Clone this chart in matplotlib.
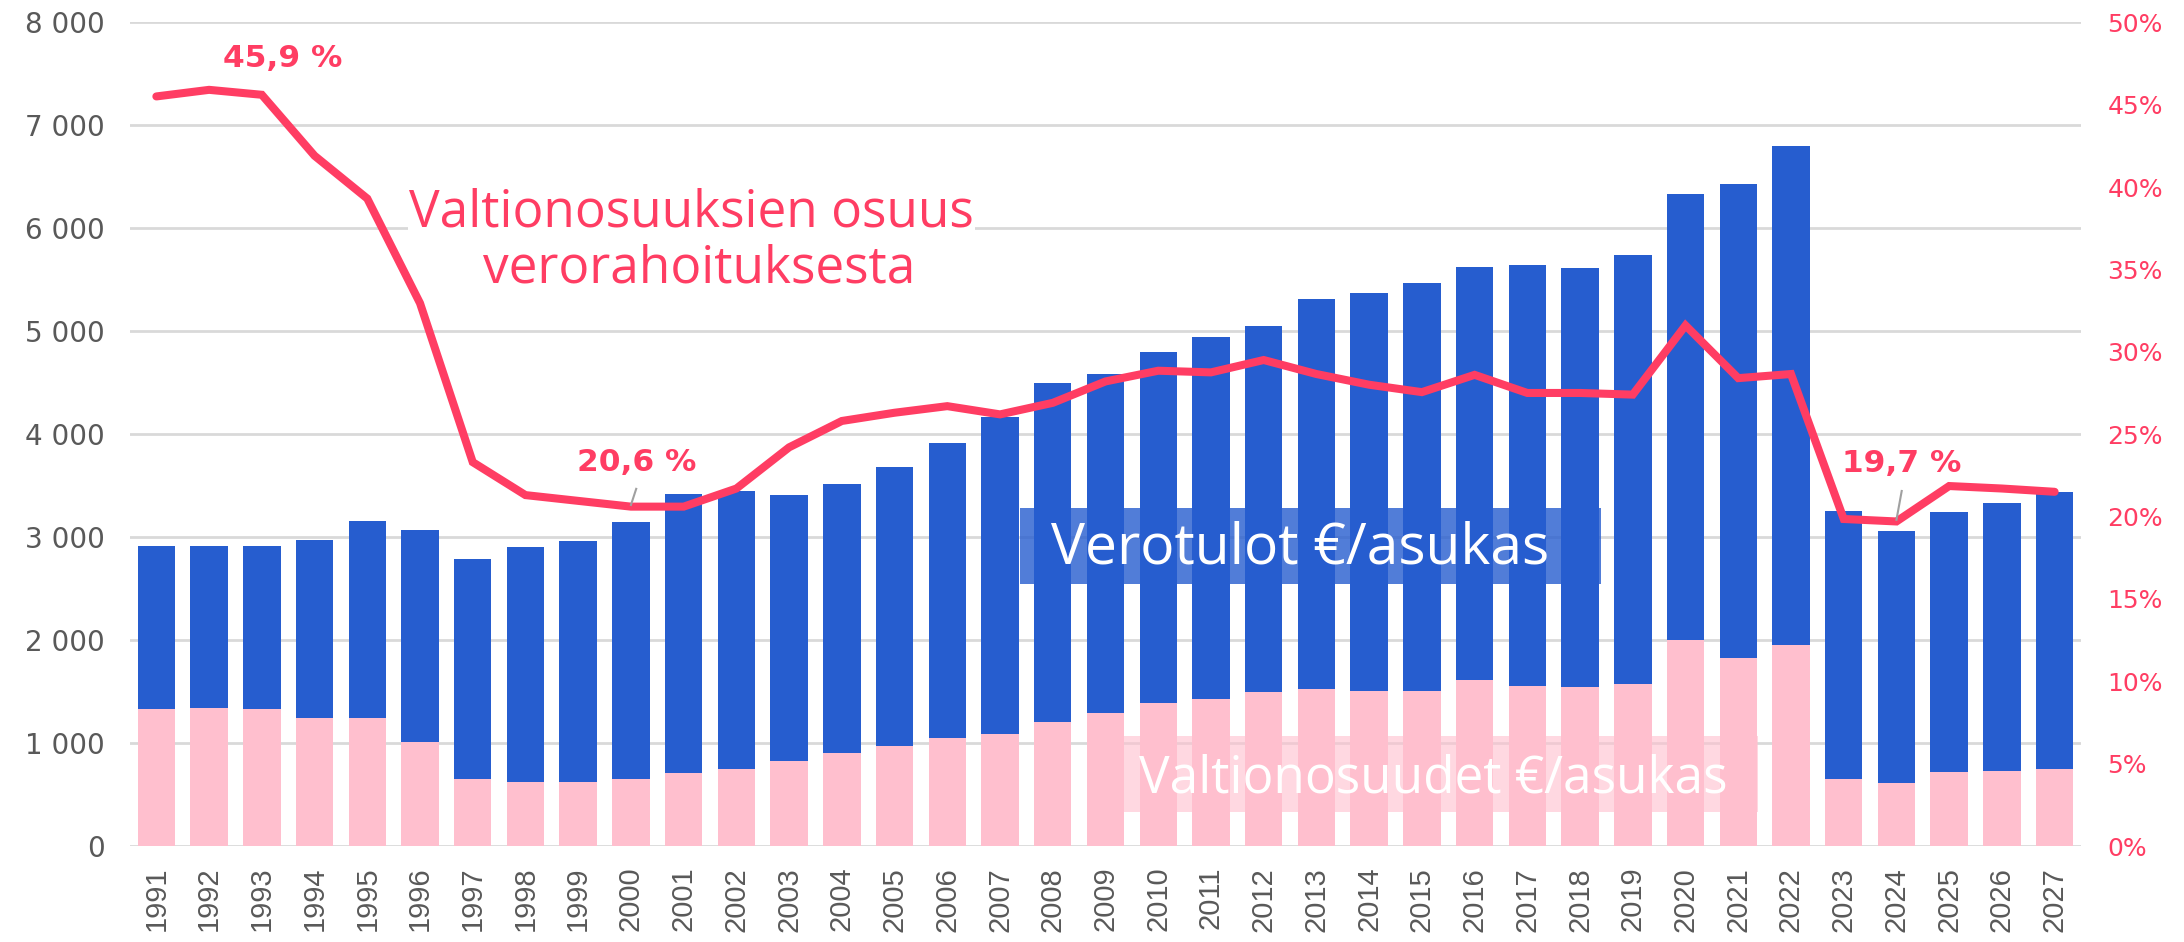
import matplotlib
matplotlib.use("Agg")
import matplotlib.pyplot as plt
from matplotlib.patches import Rectangle
from matplotlib.ticker import FuncFormatter, MultipleLocator

years = [str(y) for y in range(1991, 2028)]
verotulot = [2911, 2917, 2911, 2969, 3160, 3072, 2784, 2904, 2962, 3144,
             3419, 3451, 3412, 3519, 3679, 3917, 4167, 4497, 4581, 4801,
             4947, 5047, 5313, 5368, 5471, 5623, 5642, 5610, 5740, 6333,
             6433, 6799, 3254, 3059, 3241, 3331, 3441]
valtionosuudet = [1328, 1337, 1328, 1246, 1246, 1013, 648, 618, 618, 648,
                  706, 748, 826, 906, 971, 1046, 1088, 1207, 1295, 1386,
                  1425, 1493, 1525, 1505, 1508, 1609, 1554, 1544, 1577, 2004,
                  1829, 1952, 654, 609, 716, 728, 745]
osuus = [45.5, 45.9, 45.6, 41.9, 39.3, 32.95, 23.3, 21.3, 20.95, 20.6,
         20.6, 21.7, 24.2, 25.8, 26.3, 26.7, 26.2, 26.9, 28.2, 28.85,
         28.75, 29.5, 28.65, 28.0, 27.55, 28.6, 27.5, 27.5, 27.4, 31.6,
         28.4, 28.65, 19.85, 19.7, 21.85, 21.7, 21.5]
annot_text = ["45,9 %", "20,6 %", "19,7 %"]

BLUE = "#265DCF"
PINK = "#FFBFCE"
RED = "#FF3D63"
GRAY = "#595959"
GRID = "#D9D9D9"

fig = plt.figure(figsize=(21.84, 9.42), dpi=100)
ax = fig.add_axes([130/2184, 1-846/942, (2081-130)/2184, (846-22.3)/942])
x = list(range(len(years)))
ax.bar(x, verotulot, width=0.71, color=BLUE, zorder=2)
ax.bar(x, valtionosuudet, width=0.71, color=PINK, zorder=3)
ax.set_xlim(-0.5, len(years)-0.5)
ax.set_ylim(0, 8000)
ax.yaxis.set_major_locator(MultipleLocator(1000))
ax.yaxis.set_major_formatter(FuncFormatter(lambda v, p: f"{int(v):,}".replace(",", " ")))
ax.grid(axis="y", color=GRID, linewidth=2, zorder=0)
ax.set_axisbelow(True)
for s in ax.spines.values():
    s.set_visible(False)
ax.set_xticks(x)
ax.set_xticklabels(years, rotation=90, fontsize=21, color=GRAY, family="Liberation Sans")
ax.tick_params(axis="x", length=0, pad=15)
ax.tick_params(axis="y", length=0, pad=18, labelsize=20, labelcolor=GRAY)
for t in ax.get_yticklabels():
    t.set_family("DejaVu Sans")

ax2 = ax.twinx()
ax2.set_ylim(0, 50)
ax2.yaxis.set_major_locator(MultipleLocator(5))
ax2.yaxis.set_major_formatter(FuncFormatter(lambda v, p: f"{int(v)}%"))
ax2.tick_params(axis="y", length=0, pad=19, labelsize=18, labelcolor=RED)
for t in ax2.get_yticklabels():
    t.set_family("DejaVu Sans")
for s in ax2.spines.values():
    s.set_visible(False)
ax2.plot(x, osuus, color=RED, linewidth=5.8, solid_joinstyle="miter", solid_capstyle="round", zorder=5)

# value annotations
ann_pos = [(2.4, 47.8), (9.1, 23.25), (33.1, 23.2)]
for txt, (tx, ty) in zip(annot_text, ann_pos):
    ax2.text(tx, ty, txt, color=RED, fontsize=22.5, fontweight="bold",
             family="DejaVu Sans", ha="center", va="center", zorder=6)
ax2.plot([9.1, 9.0], [21.68, 20.7], color="#A0A0A0", linewidth=1.5, zorder=6)
ax2.plot([33.1, 33.0], [21.55, 19.8], color="#A0A0A0", linewidth=1.5, zorder=6)

# series labels
ax2.text(10.15, 37.58, "Valtionosuuksien osuus", color=RED, fontsize=37,
         family="Open Sans", ha="center", va="baseline", zorder=6,
         bbox=dict(facecolor="white", edgecolor="none", pad=1))
ax2.text(10.3, 34.18, "verorahoituksesta", color=RED, fontsize=37,
         family="Open Sans", ha="center", va="baseline", zorder=6)

ax.add_patch(Rectangle((16.37, 2545), 27.39-16.37, 3283-2545, facecolor=BLUE, alpha=0.8,
                       edgecolor="none", zorder=4))
ax.text(21.69, 2748, "Verotulot €/asukas", color="white", fontsize=41, family="Open Sans",
        ha="center", va="baseline", zorder=6)
ax.add_patch(Rectangle((18.36, 330), 30.37-18.36, 1068-330, facecolor=PINK, alpha=0.6,
                       edgecolor="none", zorder=4))
ax.text(24.22, 524, "Valtionosuudet €/asukas", color="white", fontsize=37, family="Open Sans",
        ha="center", va="baseline", zorder=6)

fig.savefig("out.png", dpi=100)
